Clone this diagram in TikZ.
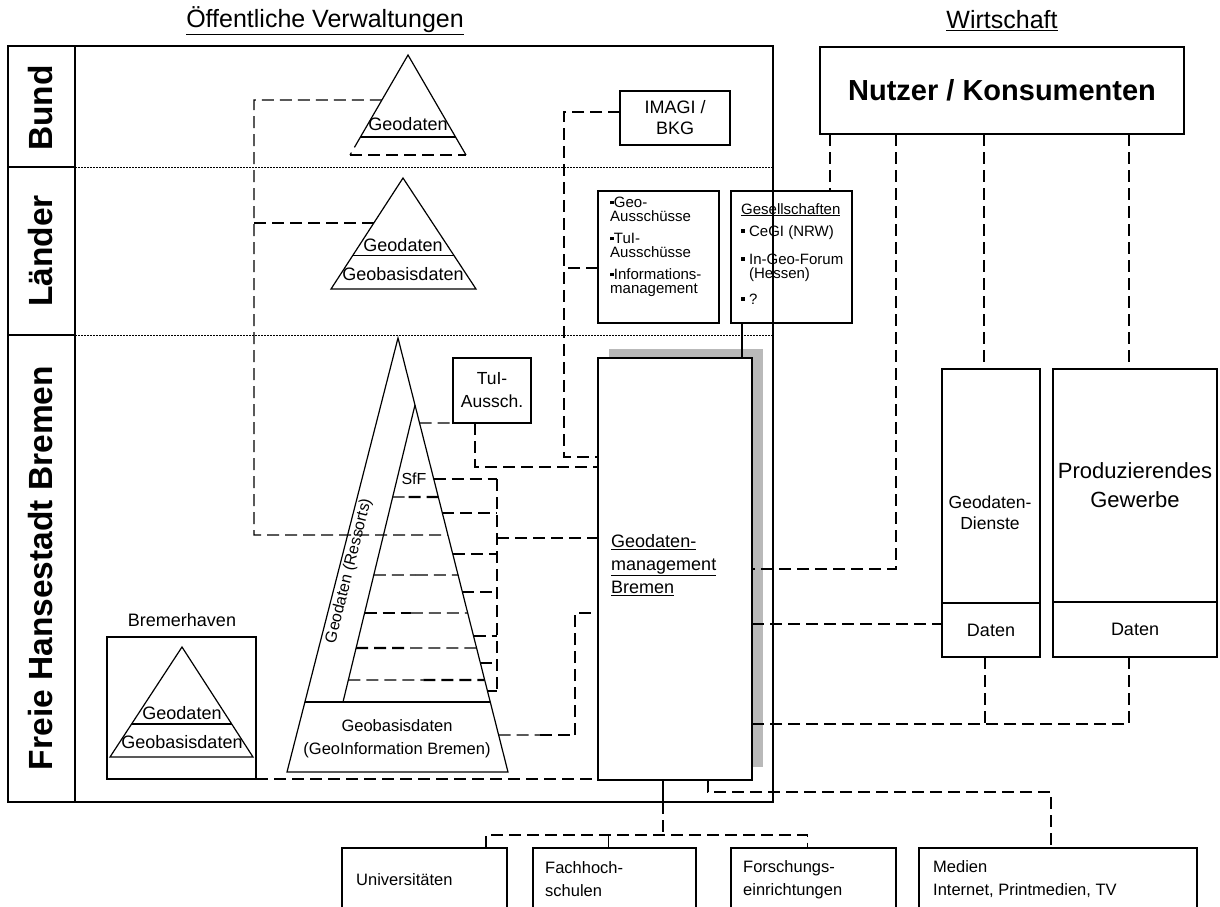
\documentclass[tikz,border=0pt]{standalone}
\usepackage{fontspec}
\setmainfont{Liberation Sans}
\usetikzlibrary{calc}
\newcommand{\sqb}{\raisebox{0.22em}{\rule{0.25em}{0.25em}}}
\begin{document}
\begin{tikzpicture}[x=1pt,y=-1pt]
  \tikzstyle{box}=[draw,line width=1.2pt,inner sep=0pt,outer sep=0pt]
  \tikzstyle{txt}=[inner sep=0pt,align=center,font=\fontsize{16.5}{23}\selectfont]
  \tikzstyle{tritxt}=[inner sep=0pt,font=\fontsize{18}{20}\selectfont]
  \tikzstyle{smalltxt}=[inner sep=0pt,align=left,font=\fontsize{15}{14}\selectfont]
  \tikzstyle{rowlabel}=[inner sep=0pt,rotate=90,font=\bfseries\fontsize{33.5}{36}\selectfont]
  \tikzstyle{heading}=[inner sep=0pt,font=\fontsize{25}{28}\selectfont]
  \tikzstyle{thinline}=[line width=1.2pt]
  \tikzstyle{dashlink}=[line width=1.2pt,dash pattern=on 12pt off 6pt]
  \tikzstyle{heavydash}=[line width=2.4pt,dash pattern=on 12pt off 6pt]
  \tikzstyle{dotline}=[line width=1pt,dash pattern=on 1.5pt off 1.5pt]
  \useasboundingbox (0,0) rectangle (1220,906);
  \clip (0,0) rectangle (1220,906);

  % headings and frame
  \node[heading] (oeff) at (325,21) {\underline{Öffentliche Verwaltungen}};
  \node[heading] (wirt) at (1002,21) {\underline{Wirtschaft}};
  \node[box,line width=2.5pt,minimum width=765,minimum height=756,anchor=north west] (frame) at (8,46) {};
  \draw[thinline] (75,46) -- (75,802);
  \draw[line width=2.5pt] (8,167) -- (75,167) (8,335) -- (75,335);
  \draw[dotline] (75,167) -- (773,167) (75,335) -- (773,335);
  \node[rowlabel] (bund) at (41,108) {Bund};
  \node[rowlabel] (laender) at (41,251) {Länder};
  \node[rowlabel] (bremen) at (41,568) {Freie Hansestadt Bremen};

  % Bund triangle
  \coordinate (bA) at (408,55);
  \coordinate (bL) at (350,155);
  \coordinate (bR) at (466,155);
  \draw[thinline] ($(bA)!0.82!(bL)$) -- (bA) -- (bR);
  \draw[thinline] ($(bA)!0.82!(bL)$) -- ($(bA)!0.82!(bR)$);
  \draw[dashlink] ($(bA)!0.82!(bL)$) -- (bL);
  \draw[heavydash] (bL) -- (bR);
  \node[tritxt] (bgeo) at (408,124) {Geodaten};

  % Laender triangle
  \coordinate (lA) at (403,178);
  \coordinate (lL) at (331,289);
  \coordinate (lR) at (476,289);
  \draw[thinline] (lA) -- (lL) -- (lR) -- cycle;
  \draw[thinline] ($(lA)!0.7!(lL)$) -- ($(lA)!0.7!(lR)$);
  \node[tritxt] (lgeo) at (403,245) {Geodaten};
  \node[tritxt] (lbasis) at (403,274) {Geobasisdaten};

  % Bremerhaven
  \node[tritxt] (brhvtxt) at (182,620) {Bremerhaven};
  \node[box,minimum width=149,minimum height=142,anchor=north west] (brhv) at (107,637) {};
  \coordinate (hA) at (182,647);
  \coordinate (hL) at (110,757);
  \coordinate (hR) at (253,757);
  \draw[thinline] (hA) -- (hL) -- (hR) -- cycle;
  \draw[thinline] ($(hA)!0.7!(hL)$) -- ($(hA)!0.7!(hR)$);
  \node[tritxt] (hgeo) at (182,713) {Geodaten};
  \node[tritxt] (hbasis) at (182,742) {Geobasisdaten};

  % Bremen pyramid
  \coordinate (gA) at (398,338);
  \coordinate (gL) at (287,772);
  \coordinate (gR) at (508,772);
  \coordinate (iA) at ($(gA)!{67/434}!(gR)$);
  \coordinate (iB) at (343,702);
  \draw[thinline] (gA) -- (gL) -- (gR) -- cycle;
  \draw[thinline] ($(gA)!{364/434}!(gL)$) -- ($(gA)!{364/434}!(gR)$);
  \draw[thinline] (iA) -- (iB);
  \node[inner sep=0pt,rotate=76,font=\fontsize{16}{20}\selectfont] (ressorts) at (349,571) {Geodaten (Ressorts)};
  \node[inner sep=0pt,font=\fontsize{16}{19}\selectfont] (sff) at (414,479) {SfF};
  \node[txt] (basis) at (397,739) {Geobasisdaten\\(GeoInformation Bremen)};

  % boxes
  \node[box,txt,font=\fontsize{18}{21}\selectfont,minimum width=110,minimum height=54] (imagi) at (675,118) {IMAGI /\\BKG};
  \node[box,minimum width=121,minimum height=132,anchor=north west] (gremien) at (598,191) {};
  \node[smalltxt,anchor=north west] (gremtxt) at (610,197) {\sqb Geo-\\Ausschüsse\\[8pt]\sqb TuI-\\Ausschüsse\\[8pt]\sqb Informations-\\management};
  \node[box,minimum width=121,minimum height=132,anchor=north west] (gesell) at (731,191) {};
  \node[smalltxt,anchor=north west] (geseltxt) at (741,203) {\underline{Gesellschaften}\\[8pt]\sqb\ CeGI (NRW)\\[14pt]\sqb\ In-Geo-Forum\\\phantom{\sqb\ }(Hessen)\\[12pt]\sqb\ ?};
  \node[box,txt,font=\fontsize{17.5}{23}\selectfont,minimum width=78,minimum height=65] (tui) at (492,390.5) {TuI-\\Aussch.};
  \fill[gray!55] (609,349) rectangle (763,767);
  \node[box,fill=white,minimum width=154,minimum height=422,anchor=north west] (gm) at (598,358) {};
  \node[txt,font=\fontsize{18}{23}\selectfont,align=left,anchor=west] (gmtxt) at (611,565) {\underline{Geodaten-}\\\underline{management}\\\underline{Bremen}};
  \node[box,minimum width=364,minimum height=87,font=\bfseries\fontsize{29}{32}\selectfont] (nutzer) at (1002,90.5) {Nutzer / Konsumenten};
  \node[box,minimum width=98,minimum height=234,anchor=north west] (gdienste) at (942,369) {};
  \node[txt,font=\fontsize{17.5}{21}\selectfont] (gdtxt) at (990,513) {Geodaten-\\Dienste};
  \node[box,txt,font=\fontsize{18}{20}\selectfont,minimum width=98,minimum height=54,anchor=north west] (gddaten) at (942,603) {Daten};
  \node[box,txt,font=\fontsize{22}{29}\selectfont,minimum width=164,minimum height=233,anchor=north west] (prod) at (1053,369) {Produzierendes\\Gewerbe};
  \node[box,txt,font=\fontsize{18}{20}\selectfont,minimum width=164,minimum height=55,anchor=north west] (prdaten) at (1053,602) {Daten};
  \draw[line width=2.4pt] (prdaten.north west) -- (prdaten.north east);
  \node[box,minimum width=165,minimum height=64,anchor=north west] (uni) at (342,848) {};
  \node[box,minimum width=163,minimum height=64,anchor=north west] (fach) at (533,848) {};
  \node[box,minimum width=165,minimum height=64,anchor=north west] (forsch) at (731,848) {};
  \node[box,minimum width=278,minimum height=64,anchor=north west] (medien) at (919,848) {};
  \node[txt,anchor=west] (unitxt) at (356,880) {Universitäten};
  \node[txt,anchor=west,align=left] (fachtxt) at (545,879.5) {Fachhoch-\\schulen};
  \node[txt,anchor=west,align=left] (forschtxt) at (743,879.5) {Forschungs-\\einrichtungen};
  \node[txt,anchor=west,align=left] (medientxt) at (933,879.5) {Medien\\Internet, Printmedien, TV};

  % connectors inside the pyramid
  \coordinate (busT) at (497,479);
  \coordinate (busB) at (497,691);
  \coordinate (busM) at (497,538);
  \draw[heavydash] (busT) -- (busB);
  \draw[heavydash] (busM) -- (busM -| gm.west);
  \foreach \y/\s in {479/dashlink,513/dashlink,554/dashlink,592/heavydash,636/heavydash,663/dashlink,691/dashlink}
    \draw[\s] ($(gA)!{(\y-338)/434}!(gR)$) coordinate (st) -- (st -| busT);
  \foreach \y/\f/\a/\b in {497/0.35/dashlink/heavydash,575/0.5/dashlink/dashlink,613/0.45/heavydash/dashlink,648/0.45/heavydash/dashlink,680/0.55/dashlink/heavydash}{
    \path ($(iA)!{(\y-405)/297}!(iB)$) coordinate (ll) ($(gA)!{(\y-338)/434}!(gR)$) coordinate (rr);
    \draw[\a] (ll) -- ($(ll)!\f!(rr)$);
    \draw[\b] ($(ll)!\f!(rr)$) -- (rr);
  }

  % Bund / Laender links
  \coordinate (sp1) at (254,100);
  \coordinate (sp2) at (254,535);
  \draw[dashlink] ($(bA)!0.45!(bL)$) -- (sp1) -- (sp2) -- ($(gA)!{197/434}!(gR)$);
  \draw[dashlink] ($(lA)!0.405!(lL)$) coordinate (lz) -- (lz -| sp1);
  \coordinate (im1) at (564,457);
  \draw[dashlink] ([yshift=6]imagi.west) -| (im1) -- (im1 -| gm.west);
  \draw[dashlink] ([yshift=-11]gremien.west) coordinate (gz) -- (gz -| im1);
  \coordinate (g1) at ([xshift=11]gesell.south west);
  \draw[thinline] (g1) -- (g1 |- gm.north);

  % TuI, Geobasisdaten, Bremerhaven
  \draw[dashlink] ($(gA)!{85/434}!(gR)$) -- (tui.south west);
  \coordinate (tu1) at (475,467);
  \draw[dashlink] (tu1 |- tui.south) -- (tu1) -- (tu1 -| gm.west);
  \coordinate (bb1) at (575,735);
  \coordinate (bb2) at (575,613);
  \draw[dashlink] ($(gA)!{397/434}!(gR)$) -- ([xshift=-35]bb1);
  \draw[heavydash] ([xshift=-35]bb1) -- (bb1);
  \draw[dashlink] (bb1) -- (bb2) -- (bb2 -| gm.west);
  \draw[dashlink] (brhv.south east) -- (brhv.south east -| gm.west);

  % Wirtschaft links
  \coordinate (n1) at ([xshift=-172]nutzer.south);
  \coordinate (n2) at ([xshift=-106]nutzer.south);
  \coordinate (n3) at ([xshift=-18]nutzer.south);
  \coordinate (n4) at ([xshift=127]nutzer.south);
  \draw[dashlink] (n1) -- (n1 |- gesell.north);
  \draw[dashlink] (n2) |- (gm.east);
  \draw[dashlink] (n3) -- (n3 |- gdienste.north);
  \draw[dashlink] (n4) -- (n4 |- prod.north);
  \coordinate (d1) at ([yshift=6]gddaten.west);
  \draw[dashlink] (d1 -| gm.east) -- (d1);
  \coordinate (dbus) at ([xshift=-6,yshift=-67]prdaten.south);
  \draw[dashlink] ([xshift=-6]prdaten.south) -- (dbus) -- (dbus -| gm.east);
  \coordinate (dd) at ([xshift=-6]gddaten.south);
  \draw[dashlink] (dd) -- (dd |- dbus);

  % research and media
  \coordinate (gb1) at ([xshift=65]gm.south west);
  \coordinate (gb2) at ([xshift=110]gm.south west);
  \draw[thinline] (gb1) -- (gb1 |- frame.south);
  \coordinate (tree) at ([yshift=13]uni.north);
  \draw[dashlink] (gb1 |- frame.south) -- (gb1 |- tree);
  \coordinate (u1) at ([xshift=-21]uni.north east);
  \coordinate (f1) at ([xshift=-6]fach.north);
  \coordinate (f2) at ([xshift=-6]forsch.north);
  \draw[dashlink] (u1) -- (u1 |- tree) -| (f2);
  \draw[dashlink] (f1) -- (f1 |- tree);
  \coordinate (m1) at ([xshift=-7]medien.north);
  \draw[dashlink] (gb2) -- ++(0,12) -| (m1);
\end{tikzpicture}
\end{document}
